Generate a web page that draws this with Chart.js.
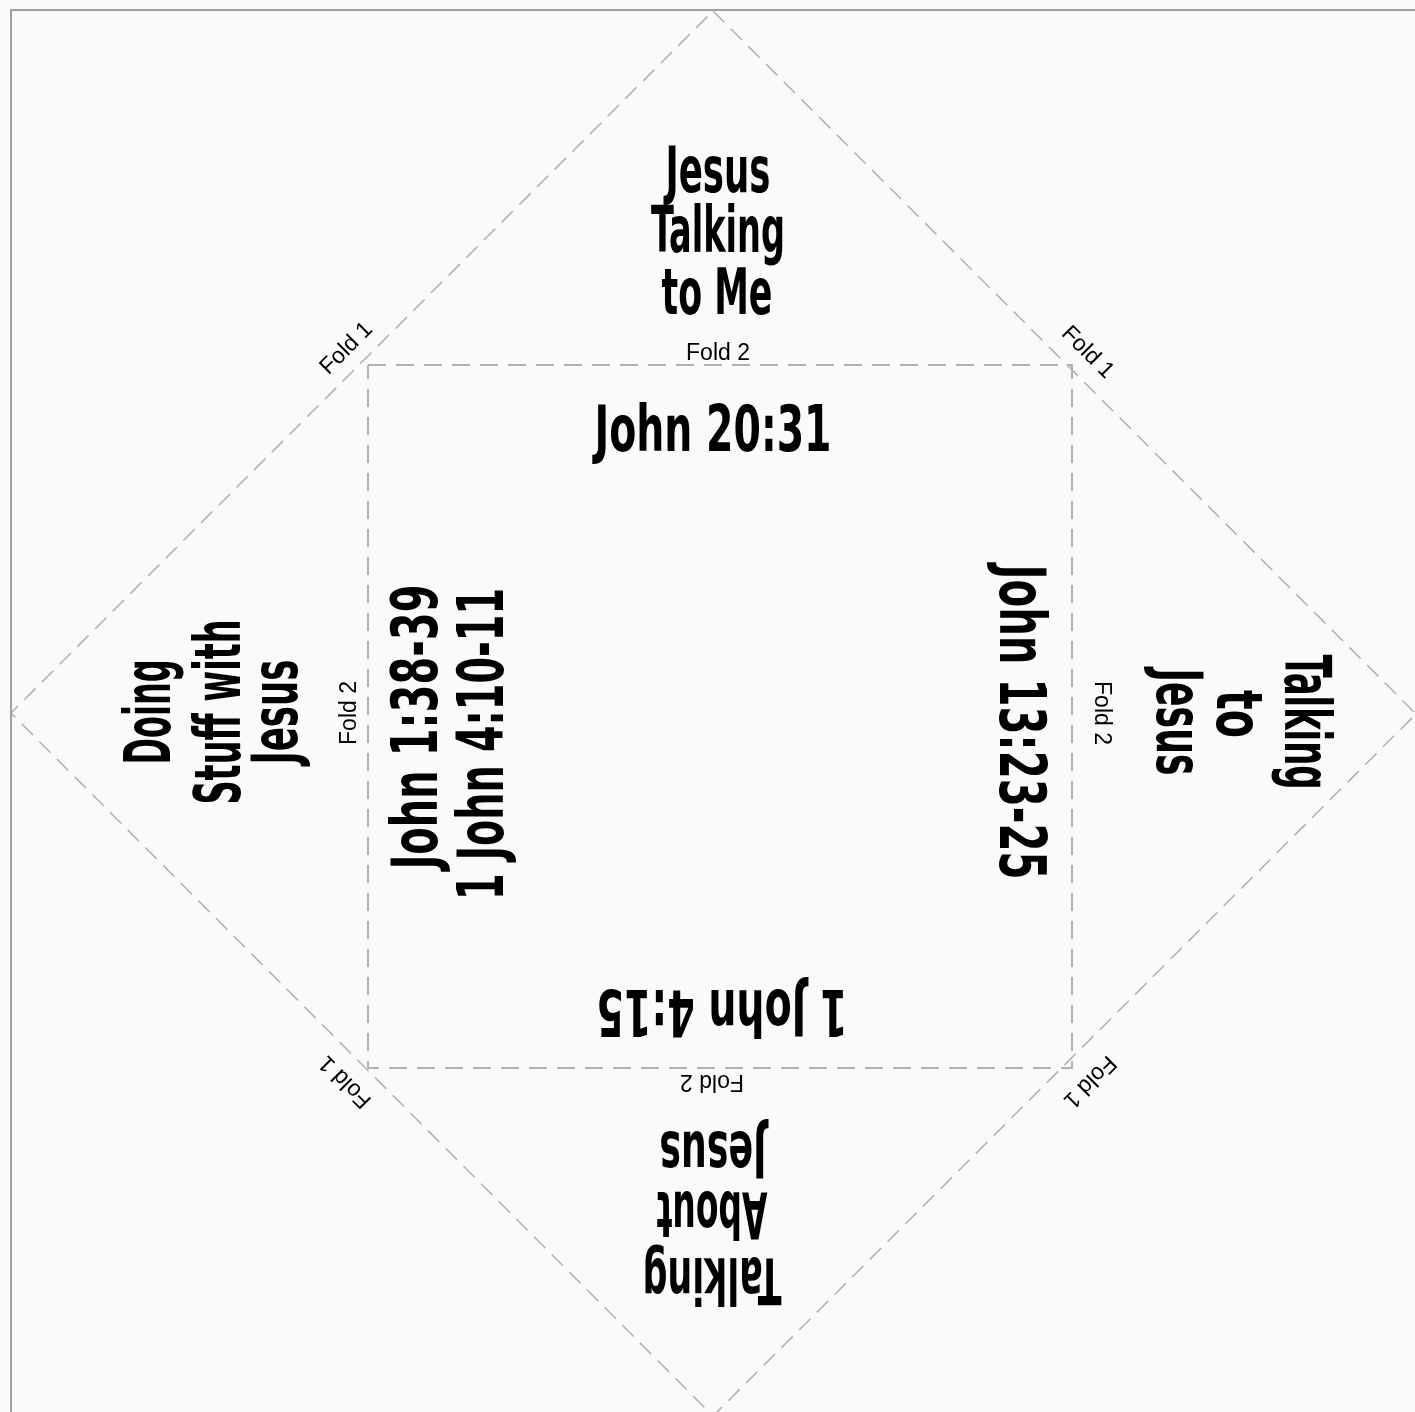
<!DOCTYPE html>
<html>
<head>
<meta charset="utf-8">
<script src="https://cdn.jsdelivr.net/npm/chart.js@4/dist/chart.umd.min.js"></script>
<style>
  body { margin: 0; background: #fafafa; }
  #wrap { width: 1415px; height: 1412px; }
</style>
</head>
<body>
<div id="wrap"><canvas id="pliage" width="1415" height="1412"></canvas></div>
<script>
/* global Chart */
// Outlines of the folding sheet, in sheet units (1 unit = 1 px)
const frameX = [11, 11, 1415]
const frameY = [1412, 10, 10]
const diamondX = [713, 1416, 713, 11, 713]
const diamondY = [11, 714, 1416, 713, 11]
const squareX = [368, 1072, 1072, 368, 368]
const squareY = [365, 365, 1068, 1068, 365]

// Texts of the four flaps and the four inner verses
const titleTop = ["Jesus", "Talking", "to Me"]
const titleRight = ["Talking", "to", "Jesus"]
const titleBottom = ["Talking", "About", "Jesus"]
const titleLeft = ["Doing", "Stuff with", "Jesus"]
const verseTop = ["John 20:31"]
const verseRight = ["John 13:23-25"]
const verseBottom = ["1 John 4:15"]
const verseLeft = ["John 1:38-39", "1 John 4:10-11"]
const fold1 = "Fold 1"
const fold2 = "Fold 2"

const BIG = 'bold 64px "Liberation Sans Narrow", "DejaVu Sans Condensed", sans-serif'
const SMALL = '23px "Liberation Sans", Arial, sans-serif'

// Where each line goes: baseline centre, rotation in degrees, max width
const labels = [
  { lines: titleTop, rot: 0, at: [[718, 192], [718, 252], [717, 314]], w: [105, 134, 111], font: BIG },
  { lines: titleRight, rot: 90, at: [[1285, 722], [1217, 714], [1157, 722]], w: [135, 48, 107], font: BIG },
  { lines: titleBottom, rot: 180, at: [[712, 1258], [712, 1192], [713, 1132]], w: [139, 111, 107], font: BIG },
  { lines: titleLeft, rot: -90, at: [[170, 712], [240, 712], [297, 712]], w: [105, 185, 105], font: BIG },
  { lines: verseTop, rot: 0, at: [[713, 451]], w: [237], font: BIG },
  { lines: verseRight, rot: 90, at: [[1000, 722]], w: [315], font: BIG },
  { lines: verseBottom, rot: 180, at: [[722, 990]], w: [251], font: BIG },
  { lines: verseLeft, rot: -90, at: [[437, 727], [503, 744]], w: [285, 312], font: BIG },
  { lines: [fold2], rot: 0, at: [[718, 360]], font: SMALL },
  { lines: [fold2], rot: 90, at: [[1095, 713]], font: SMALL },
  { lines: [fold2], rot: 180, at: [[712, 1075]], font: SMALL },
  { lines: [fold2], rot: -90, at: [[356, 713]], font: SMALL },
  { lines: [fold1], rot: -45, at: [[351, 353]], font: SMALL },
  { lines: [fold1], rot: 45, at: [[1083, 357]], font: SMALL },
  { lines: [fold1], rot: 135, at: [[1085, 1077]], font: SMALL },
  { lines: [fold1], rot: 225, at: [[350, 1077]], font: SMALL },
]

const toPoints = (xs, ys) => xs.map((x, i) => ({ x: x, y: ys[i] }))

/* Fond de page */
const background = {
  id: "fond",
  beforeDraw(chart) {
    const ctx = chart.ctx
    ctx.save()
    ctx.fillStyle = "#fafafa"
    ctx.fillRect(0, 0, chart.width, chart.height)
    ctx.restore()
  },
}

/* Texts placed through the scales */
const texts = {
  id: "textes",
  afterDatasetsDraw(chart) {
    const { ctx, scales } = chart
    for (const lab of labels) {
      lab.lines.forEach((t, i) => {
        const px = scales.x.getPixelForValue(lab.at[i][0])
        const py = scales.y.getPixelForValue(lab.at[i][1])
        ctx.save()
        ctx.translate(px, py)
        ctx.rotate((lab.rot * Math.PI) / 180)
        ctx.font = lab.font
        ctx.textAlign = "center"
        ctx.textBaseline = "alphabetic"
        ctx.fillStyle = "#000"
        if (lab.w) {
          ctx.fillText(t, 0, 0, lab.w[i])
        } else {
          ctx.fillText(t, 0, 0)
        }
        ctx.restore()
      })
    }
  },
}

const dashed = {
  showLine: true,
  pointRadius: 0,
  fill: false,
  tension: 0,
}

new Chart(document.querySelector("#pliage"), {
  type: "scatter",
  data: {
    datasets: [
      { ...dashed, label: "frame", data: toPoints(frameX, frameY), borderColor: "#a0a0a0", borderWidth: 2 },
      { ...dashed, label: "fold 1", data: toPoints(diamondX, diamondY), borderColor: "#b0b0b0", borderWidth: 1.5, borderDash: [16, 9] },
      { ...dashed, label: "fold 2", data: toPoints(squareX, squareY), borderColor: "#9a9a9a", borderWidth: 1.5, borderDash: [18, 10] },
    ],
  },
  options: {
    responsive: false,
    devicePixelRatio: 1,
    animation: false,
    layout: { padding: 0 },
    scales: {
      x: { type: "linear", min: 0, max: 1415, display: false },
      y: { type: "linear", min: 0, max: 1412, reverse: true, display: false },
    },
    plugins: {
      legend: { display: false },
      tooltip: { enabled: false },
    },
  },
  plugins: [background, texts],
})
</script>
</body>
</html>
